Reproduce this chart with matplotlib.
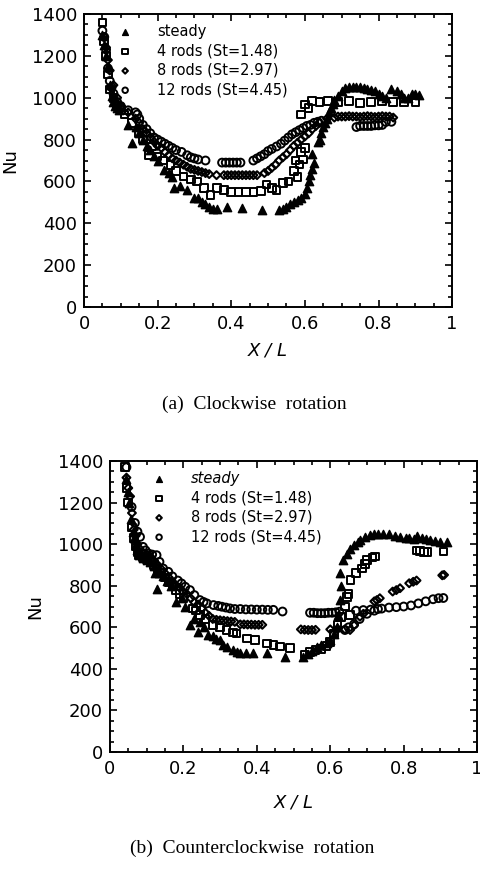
import numpy as np
import matplotlib
matplotlib.use("Agg")
import matplotlib.pyplot as plt
from matplotlib.ticker import MultipleLocator

# ---- data: (X/L, Nu) ----
# (a) clockwise rotation
steady_cw = [(0.050,1300),(0.055,1250),(0.060,1200),(0.065,1150),(0.070,1060),(0.075,1010),(0.080,980),
             (0.085,960),(0.090,950),(0.095,940),(0.120,870),(0.131,785),(0.140,860),(0.150,830),(0.160,800),
             (0.170,770),(0.180,750),(0.190,720),(0.200,700),(0.217,655),(0.230,640),(0.240,623),(0.245,568),
             (0.260,580),(0.280,560),(0.300,521),(0.310,520),(0.320,500),(0.330,490),(0.340,480),(0.350,470),
             (0.360,470),(0.389,479),(0.430,473),(0.484,463),(0.530,463),(0.540,470),(0.550,480),(0.560,490),
             (0.570,500),(0.580,510),(0.590,520),(0.600,540),(0.605,570),(0.610,600),(0.615,630),(0.620,660),
             (0.625,690),(0.620,730),(0.635,790),(0.640,800),(0.645,830),(0.650,860),(0.655,880),(0.660,900),
             (0.665,930),(0.670,950),(0.675,970),(0.680,990),(0.690,1010),(0.700,1030),(0.710,1045),(0.720,1050),
             (0.730,1052),(0.740,1050),(0.750,1050),(0.760,1045),(0.770,1040),(0.780,1035),(0.790,1030),
             (0.800,1020),(0.810,1010),(0.820,1000),(0.835,1040),(0.850,1030),(0.860,1020),(0.870,1000),
             (0.880,1000),(0.890,1020),(0.900,1020),(0.910,1015)]
rods4_cw = [(0.050,1360),(0.055,1270),(0.060,1200),(0.065,1110),(0.070,1040),(0.080,1000),(0.090,960),
            (0.100,940),(0.110,920),(0.130,880),(0.150,830),(0.160,800),(0.177,726),(0.185,766),(0.200,720),
            (0.215,700),(0.235,678),(0.250,650),(0.270,623),(0.290,610),(0.307,599),(0.326,568),(0.344,535),
            (0.362,568),(0.380,560),(0.400,550),(0.420,550),(0.440,550),(0.460,550),(0.480,555),(0.496,585),
            (0.510,570),(0.523,560),(0.540,592),(0.555,600),(0.570,650),(0.575,700),(0.580,620),(0.585,680),
            (0.590,740),(0.595,705),(0.600,760),(0.590,919),(0.600,967),(0.610,950),(0.620,983),(0.640,980),
            (0.663,983),(0.690,980),(0.720,985),(0.750,975),(0.780,980),(0.810,985),(0.840,980),(0.870,980),
            (0.900,978)]
rods8_cw = [(0.055,1290),(0.060,1240),(0.065,1180),(0.070,1130),(0.080,1060),(0.090,1000),(0.100,960),
            (0.120,930),(0.140,900),(0.150,880),(0.160,850),(0.170,830),(0.180,810),(0.190,790),(0.200,770),
            (0.210,760),(0.220,740),(0.230,725),(0.240,710),(0.250,700),(0.260,690),(0.270,680),(0.280,670),
            (0.290,660),(0.300,655),(0.310,650),(0.320,645),(0.330,640),(0.340,635),(0.360,630),(0.380,630),
            (0.390,630),(0.400,630),(0.410,630),(0.420,630),(0.430,630),(0.440,630),(0.450,630),(0.460,630),
            (0.470,630),(0.490,640),(0.500,650),(0.510,665),(0.520,680),(0.530,700),(0.540,715),(0.550,730),
            (0.560,750),(0.570,770),(0.580,785),(0.590,800),(0.600,815),(0.610,830),(0.620,850),(0.630,865),
            (0.640,880),(0.660,900),(0.680,905),(0.690,910),(0.700,910),(0.710,910),(0.720,912),(0.730,910),
            (0.740,910),(0.750,908),(0.760,910),(0.770,912),(0.780,910),(0.790,908),(0.800,910),(0.810,912),
            (0.820,910),(0.830,910),(0.840,905)]
rods12_cw = [(0.050,1320),(0.055,1290),(0.060,1230),(0.065,1140),(0.070,1080),(0.075,1050),(0.080,1020),
             (0.090,980),(0.100,960),(0.120,940),(0.140,930),(0.145,920),(0.150,900),(0.160,870),(0.170,850),
             (0.180,830),(0.190,810),(0.200,800),(0.210,790),(0.220,780),(0.230,770),(0.240,760),(0.250,750),
             (0.265,741),(0.280,725),(0.290,715),(0.300,710),(0.310,705),(0.330,700),(0.375,690),(0.385,690),
             (0.395,690),(0.405,690),(0.415,690),(0.425,690),(0.460,700),(0.470,710),(0.480,720),(0.490,730),
             (0.500,745),(0.510,755),(0.523,767),(0.535,780),(0.545,795),(0.555,810),(0.565,825),(0.575,835),
             (0.585,845),(0.595,855),(0.605,865),(0.615,870),(0.625,880),(0.635,885),(0.645,890),(0.740,860),
             (0.750,865),(0.760,865),(0.770,865),(0.780,865),(0.790,868),(0.800,868),(0.810,870),(0.820,884),
             (0.835,885)]

# (b) counterclockwise rotation
steady_ccw = [(0.044,1312),(0.048,1250),(0.052,1200),(0.058,1120),(0.062,1060),(0.066,1030),(0.070,1000),
              (0.075,970),(0.080,950),(0.090,935),(0.100,925),(0.110,915),(0.120,895),(0.123,859),(0.127,784),
              (0.135,860),(0.145,845),(0.155,825),(0.165,800),(0.180,723),(0.195,740),(0.205,700),(0.218,611),
              (0.228,640),(0.241,579),(0.245,627),(0.255,600),(0.268,563),(0.280,560),(0.290,545),(0.300,539),
              (0.309,515),(0.320,505),(0.336,491),(0.345,480),(0.355,475),(0.370,478),(0.390,475),(0.427,475),
              (0.477,459),(0.527,459),(0.540,470),(0.550,485),(0.564,507),(0.575,515),(0.590,525),(0.600,539),
              (0.610,570),(0.618,603),(0.622,660),(0.627,731),(0.630,800),(0.627,859),(0.636,923),(0.645,955),
              (0.655,979),(0.665,995),(0.675,1010),(0.682,1019),(0.695,1035),(0.709,1043),(0.720,1048),
              (0.730,1050),(0.745,1051),(0.760,1048),(0.775,1040),(0.790,1035),(0.805,1030),(0.815,1028),
              (0.827,1027),(0.836,1040),(0.850,1030),(0.860,1025),(0.873,1019),(0.885,1015),(0.900,1012),
              (0.918,1011)]
rods4_ccw = [(0.041,1370),(0.045,1270),(0.050,1200),(0.060,1080),(0.065,1030),(0.070,990),(0.075,960),
             (0.080,945),(0.090,935),(0.100,930),(0.110,920),(0.120,900),(0.130,880),(0.140,860),(0.150,840),
             (0.160,818),(0.170,800),(0.180,780),(0.190,760),(0.200,740),(0.227,691),(0.235,680),(0.245,659),
             (0.260,640),(0.280,611),(0.300,600),(0.318,587),(0.335,575),(0.345,571),(0.373,547),(0.395,539),
             (0.427,523),(0.445,515),(0.464,507),(0.490,499),(0.530,470),(0.545,480),(0.560,490),(0.575,495),
             (0.590,510),(0.600,530),(0.610,570),(0.620,610),(0.630,650),(0.640,700),(0.645,747),(0.650,760),
             (0.655,827),(0.654,659),(0.670,860),(0.686,883),(0.695,905),(0.700,925),(0.715,935),(0.722,940),
             (0.835,970),(0.845,968),(0.855,963),(0.865,962),(0.908,965)]
rods8_ccw = [(0.045,1320),(0.050,1270),(0.055,1230),(0.060,1150),(0.065,1070),(0.070,1040),(0.075,1000),
             (0.080,980),(0.090,960),(0.100,950),(0.110,940),(0.120,920),(0.130,900),(0.140,880),(0.150,860),
             (0.160,840),(0.170,820),(0.180,800),(0.190,790),(0.200,770),(0.210,760),(0.220,740),(0.230,720),
             (0.240,710),(0.250,690),(0.260,670),(0.270,655),(0.280,640),(0.290,636),(0.300,634),(0.310,632),
             (0.320,630),(0.330,628),(0.340,626),(0.355,614),(0.365,614),(0.375,613),(0.385,613),(0.395,612),
             (0.405,612),(0.415,612),(0.520,590),(0.530,588),(0.540,587),(0.550,587),(0.560,588),(0.600,590),
             (0.620,592),(0.640,590),(0.654,587),(0.665,610),(0.681,651),(0.690,665),(0.720,725),(0.727,731),
             (0.735,740),(0.770,772),(0.780,779),(0.790,788),(0.815,812),(0.826,819),(0.835,825),(0.905,850),
             (0.910,852)]
rods12_ccw = [(0.045,1370),(0.059,1179),(0.068,1102),(0.075,1060),(0.082,1035),(0.090,987),(0.097,970),
              (0.105,955),(0.115,950),(0.127,947),(0.135,915),(0.145,883),(0.159,867),(0.170,845),(0.185,825),
              (0.195,811),(0.205,795),(0.218,779),(0.230,755),(0.245,731),(0.255,722),(0.264,715),(0.282,707),
              (0.295,703),(0.305,699),(0.316,695),(0.327,691),(0.340,688),(0.355,688),(0.370,686),(0.385,686),
              (0.400,685),(0.415,685),(0.430,684),(0.445,684),(0.470,676),(0.545,670),(0.555,670),(0.565,668),
              (0.575,668),(0.585,668),(0.595,670),(0.605,670),(0.615,672),(0.625,675),(0.640,587),(0.650,600),
              (0.665,615),(0.670,680),(0.680,640),(0.690,683),(0.700,665),(0.710,685),(0.720,680),(0.730,688),
              (0.740,690),(0.760,695),(0.780,697),(0.800,700),(0.820,705),(0.840,715),(0.860,725),(0.880,735),
              (0.895,740),(0.908,741)]

labels = ["steady", "4 rods (St=1.48)", "8 rods (St=2.97)", "12 rods (St=4.45)"]
xticklabels = ["0", "0.2", "0.4", "0.6", "0.8", "1"]

styles = [dict(marker="^", s=36, facecolors="black", edgecolors="black", linewidths=1.0),
          dict(marker="s", s=30, facecolors="none", edgecolors="black", linewidths=1.4),
          dict(marker="D", s=16, facecolors="none", edgecolors="black", linewidths=1.5),
          dict(marker="o", s=32, facecolors="none", edgecolors="black", linewidths=1.4)]


def draw_panel(ax, series, italic_first, ylab_x, xlab_y, leg_anchor):
    for pts, lab, st in zip(series, labels, styles):
        arr = np.array(pts)
        ax.scatter(arr[:, 0], arr[:, 1], label=lab, zorder=3, **st)
    ax.set_xlim(0, 1)
    ax.set_ylim(0, 1400)
    ax.set_xticks(np.arange(0, 1.01, 0.2))
    ax.set_xticklabels(xticklabels)
    ax.set_yticks(np.arange(0, 1401, 200))
    ax.xaxis.set_minor_locator(MultipleLocator(0.05))
    ax.yaxis.set_minor_locator(MultipleLocator(50))
    ax.tick_params(which="both", direction="in", top=True, right=True, width=1.2, labelsize=13)
    ax.tick_params(which="major", length=5)
    ax.tick_params(which="minor", length=3)
    ax.tick_params(axis="x", pad=6)
    ax.tick_params(axis="y", pad=5)
    for sp in ax.spines.values():
        sp.set_linewidth(1.4)
    ax.set_ylabel("Nu", fontsize=13)
    ax.yaxis.set_label_coords(ylab_x, 0.5)
    ax.set_xlabel("X / L", fontsize=13, style="italic")
    ax.xaxis.set_label_coords(0.5, xlab_y)
    leg = ax.legend(loc="upper left", bbox_to_anchor=leg_anchor, frameon=False, fontsize=10.5,
                    handlelength=1.0, handletextpad=1.7, labelspacing=0.3, borderpad=0,
                    borderaxespad=0, scatterpoints=1, markerscale=0.7)
    if italic_first:
        leg.get_texts()[0].set_style("italic")


plt.rcParams["font.family"] = ["DejaVu Sans"]
fig = plt.figure(figsize=(4.8, 8.69), dpi=100)

ax1 = fig.add_axes([0.175, 0.6467, 0.767, 0.3372])
draw_panel(ax1, [steady_cw, rods4_cw, rods8_cw, rods12_cw], False, -0.175, -0.119, (0.092, 0.966))

ax2 = fig.add_axes([0.229, 0.1346, 0.765, 0.3349])
draw_panel(ax2, [steady_ccw, rods4_ccw, rods8_ccw, rods12_ccw], True, -0.18, -0.141, (0.114, 0.966))

fig.text(0.53, 1 - 404 / 869, "(a)  Clockwise  rotation", ha="center", va="center",
         family="Liberation Serif", fontsize=14)
fig.text(0.525, 1 - 848 / 869, "(b)  Counterclockwise  rotation", ha="center", va="center",
         family="Liberation Serif", fontsize=14)

fig.savefig("out.png", dpi=100)
